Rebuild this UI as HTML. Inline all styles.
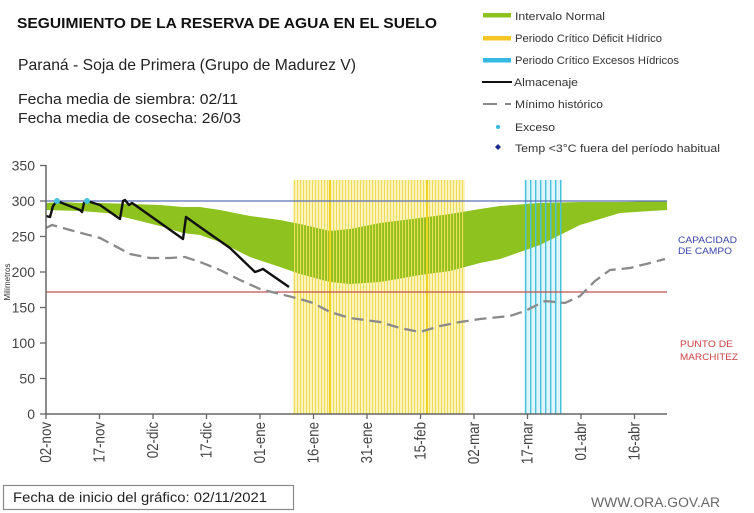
<!DOCTYPE html>
<html>
<head>
<meta charset="utf-8">
<style>
  html,body{margin:0;padding:0;background:#fff;}
  svg{display:block;font-family:"Liberation Sans",Arial,sans-serif;}
</style>
</head>
<body>
<svg width="754" height="513" viewBox="0 0 754 513" xmlns="http://www.w3.org/2000/svg">
  <defs>
    <pattern id="ypat" width="3" height="10" patternUnits="userSpaceOnUse">
      <rect x="0" y="0" width="1.1" height="10" fill="#efdc55"/>
    </pattern>
    <pattern id="cpat" width="5" height="10" patternUnits="userSpaceOnUse">
      <rect x="0" y="0" width="1.4" height="10" fill="#45c3dd"/>
    </pattern>
  </defs>
  <rect width="754" height="513" fill="#fff"/>

  <!-- Title block -->
  <text x="17" y="28" font-size="15" font-weight="bold" fill="#111" textLength="420" lengthAdjust="spacingAndGlyphs">SEGUIMIENTO DE LA RESERVA DE AGUA EN EL SUELO</text>
  <text x="18" y="70" font-size="16" fill="#222" textLength="338" lengthAdjust="spacingAndGlyphs">Paraná - Soja de Primera (Grupo de Madurez V)</text>
  <text x="18" y="104" font-size="15" fill="#222" textLength="220" lengthAdjust="spacingAndGlyphs">Fecha media de siembra: 02/11</text>
  <text x="18" y="123" font-size="15" fill="#222" textLength="223" lengthAdjust="spacingAndGlyphs">Fecha media de cosecha: 26/03</text>

  <!-- Legend -->
  <rect x="483" y="13" width="28" height="4.5" fill="#8dc21f"/>
  <text x="515" y="20" font-size="11" fill="#333" textLength="90" lengthAdjust="spacingAndGlyphs">Intervalo Normal</text>
  <rect x="483" y="36" width="28" height="4.5" fill="#f3c623"/>
  <text x="515" y="42" font-size="11" fill="#333" textLength="147" lengthAdjust="spacingAndGlyphs">Periodo Crítico Déficit Hídrico</text>
  <rect x="483" y="58" width="28" height="4.5" fill="#35b8e2"/>
  <text x="515" y="64" font-size="11" fill="#333" textLength="164" lengthAdjust="spacingAndGlyphs">Periodo Crítico Excesos Hídricos</text>
  <line x1="482" y1="82" x2="512" y2="82" stroke="#111" stroke-width="2"/>
  <text x="514" y="86" font-size="11" fill="#333" textLength="64" lengthAdjust="spacingAndGlyphs">Almacenaje</text>
  <line x1="483" y1="104" x2="497" y2="104" stroke="#888" stroke-width="2"/>
  <line x1="505" y1="104" x2="511" y2="104" stroke="#888" stroke-width="2"/>
  <text x="515" y="108" font-size="11" fill="#333" textLength="88" lengthAdjust="spacingAndGlyphs">Mínimo histórico</text>
  <circle cx="498" cy="127" r="2" fill="#35b8e2"/>
  <text x="515" y="131" font-size="11" fill="#333" textLength="40" lengthAdjust="spacingAndGlyphs">Exceso</text>
  <polygon points="498,144 501,147 498,150 495,147" fill="#1a2a8a"/>
  <text x="515" y="152" font-size="11" fill="#333" textLength="205" lengthAdjust="spacingAndGlyphs">Temp &lt;3°C fuera del período habitual</text>

  <!-- Period backgrounds -->
  <rect x="293" y="180" width="172" height="234" fill="#fbf4c2"/>
  <rect x="524" y="180" width="38" height="234" fill="#dff5f9"/>

  <!-- Green normal interval -->
  <polygon fill="#8dc21f" points="
    46,203 60,202 80,203 100,203 130,204 160,205 183,207 200,207 220,210 250,216 280,220 300,224 330,231 350,229 380,223 420,218 450,214 480,209 500,206 540,203 580,202 620,202 667,201
    667,210 620,213 580,225 540,245 500,259 480,263 450,271 420,275 380,282 350,284 330,282 300,274 280,267 250,257 220,242 200,235 183,233 160,226 140,221 107,213 80,211 46,210"/>

  <!-- Period stripes on top -->
  <rect x="293" y="180" width="172" height="234" fill="url(#ypat)"/>
  <rect x="329" y="180" width="2" height="234" fill="#f0d21e"/>
  <rect x="426" y="180" width="2" height="234" fill="#f0d21e"/>
  <rect x="524" y="180" width="38" height="234" fill="url(#cpat)"/>

  <!-- Reference lines -->
  <line x1="46" y1="201" x2="667" y2="201" stroke="#5a6fb5" stroke-width="1.2"/>
  <line x1="46" y1="292" x2="667" y2="292" stroke="#c0504d" stroke-width="1.2"/>

  <!-- Minimo historico dashed -->
  <polyline fill="none" stroke="#8a8a8a" stroke-width="2.3" stroke-dasharray="12,6" points="
    46,228 52,225 70,230 100,238 130,254 150,258 170,258 185,257 200,262 220,270 240,280 260,289 280,294 300,299 313,303 330,312 350,318 380,322 400,328 420,332 440,326 460,322 480,319 510,316 525,311 545,301 565,303 580,296 595,281 610,270 630,268 650,263 665,259"/>

  <!-- Almacenaje -->
  <polyline fill="none" stroke="#111" stroke-width="2.4" stroke-linejoin="round" points="
    46,216 50,217 53,206 57,201 80,210 82,212 84,203 87,201 100,205 120,219 123,201 125,200 129,205 132,203 135,205 183,239 186,217 200,227 230,248 255,272 258,271 263,269 289,287"/>
  <circle cx="57" cy="201" r="3" fill="#45c3dd"/>
  <circle cx="87" cy="201" r="3" fill="#45c3dd"/>

  <!-- Axes -->
  <line x1="46" y1="165" x2="46" y2="414" stroke="#666" stroke-width="1.5"/>
  <line x1="46" y1="414" x2="667" y2="414" stroke="#666" stroke-width="1.5"/>
  <g stroke="#666" stroke-width="1.3">
    <line x1="40" y1="165.5" x2="46" y2="165.5"/>
    <line x1="40" y1="201" x2="46" y2="201"/>
    <line x1="40" y1="236.5" x2="46" y2="236.5"/>
    <line x1="40" y1="272" x2="46" y2="272"/>
    <line x1="40" y1="307.5" x2="46" y2="307.5"/>
    <line x1="40" y1="343" x2="46" y2="343"/>
    <line x1="40" y1="378.5" x2="46" y2="378.5"/>
    <line x1="40" y1="414" x2="46" y2="414"/>
    <line x1="46" y1="414" x2="46" y2="419"/>
    <line x1="99.5" y1="414" x2="99.5" y2="419"/>
    <line x1="153" y1="414" x2="153" y2="419"/>
    <line x1="206.5" y1="414" x2="206.5" y2="419"/>
    <line x1="260" y1="414" x2="260" y2="419"/>
    <line x1="313.5" y1="414" x2="313.5" y2="419"/>
    <line x1="367" y1="414" x2="367" y2="419"/>
    <line x1="420.5" y1="414" x2="420.5" y2="419"/>
    <line x1="474" y1="414" x2="474" y2="419"/>
    <line x1="527.5" y1="414" x2="527.5" y2="419"/>
    <line x1="581" y1="414" x2="581" y2="419"/>
    <line x1="634.5" y1="414" x2="634.5" y2="419"/>
  </g>

  <!-- Y tick labels -->
  <g font-size="14" fill="#444" text-anchor="end">
    <text x="35" y="170.5">350</text>
    <text x="35" y="206">300</text>
    <text x="35" y="241.5">250</text>
    <text x="35" y="277">200</text>
    <text x="35" y="312.5">150</text>
    <text x="35" y="348">100</text>
    <text x="35" y="383.5">50</text>
    <text x="35" y="419">0</text>
  </g>
  <text transform="translate(10,282) rotate(-90)" font-size="8" fill="#333" text-anchor="middle">Milímetros</text>

  <!-- X tick labels -->
  <g font-size="13.3" fill="#444" text-anchor="end">
    <text transform="translate(51,422) rotate(-90) scale(1,1.2)">02-nov</text>
    <text transform="translate(104.5,422) rotate(-90) scale(1,1.2)">17-nov</text>
    <text transform="translate(158,422) rotate(-90) scale(1,1.2)">02-dic</text>
    <text transform="translate(211.5,422) rotate(-90) scale(1,1.2)">17-dic</text>
    <text transform="translate(265,422) rotate(-90) scale(1,1.2)">01-ene</text>
    <text transform="translate(318.5,422) rotate(-90) scale(1,1.2)">16-ene</text>
    <text transform="translate(372,422) rotate(-90) scale(1,1.2)">31-ene</text>
    <text transform="translate(425.5,422) rotate(-90) scale(1,1.2)">15-feb</text>
    <text transform="translate(479,422) rotate(-90) scale(1,1.2)">02-mar</text>
    <text transform="translate(532.5,422) rotate(-90) scale(1,1.2)">17-mar</text>
    <text transform="translate(586,422) rotate(-90) scale(1,1.2)">01-abr</text>
    <text transform="translate(639.5,422) rotate(-90) scale(1,1.2)">16-abr</text>
  </g>

  <!-- Right annotations -->
  <g font-size="9.5" fill="#3a46a8">
    <text x="678" y="243" textLength="59" lengthAdjust="spacingAndGlyphs">CAPACIDAD</text>
    <text x="678" y="254" textLength="54" lengthAdjust="spacingAndGlyphs">DE  CAMPO</text>
  </g>
  <g font-size="9.5" fill="#cc4444">
    <text x="680" y="347" textLength="53" lengthAdjust="spacingAndGlyphs">PUNTO  DE</text>
    <text x="680" y="360" textLength="58" lengthAdjust="spacingAndGlyphs">MARCHITEZ</text>
  </g>

  <!-- Footer -->
  <rect x="3.5" y="485.5" width="290" height="24" fill="#fff" stroke="#8a8a8a" stroke-width="1.2"/>
  <text x="13" y="502" font-size="13.5" fill="#222" textLength="254" lengthAdjust="spacingAndGlyphs">Fecha de inicio del gráfico:  02/11/2021</text>
  <text x="591" y="507" font-size="13.5" fill="#666" textLength="129" lengthAdjust="spacingAndGlyphs">WWW.ORA.GOV.AR</text>
</svg>
</body>
</html>
